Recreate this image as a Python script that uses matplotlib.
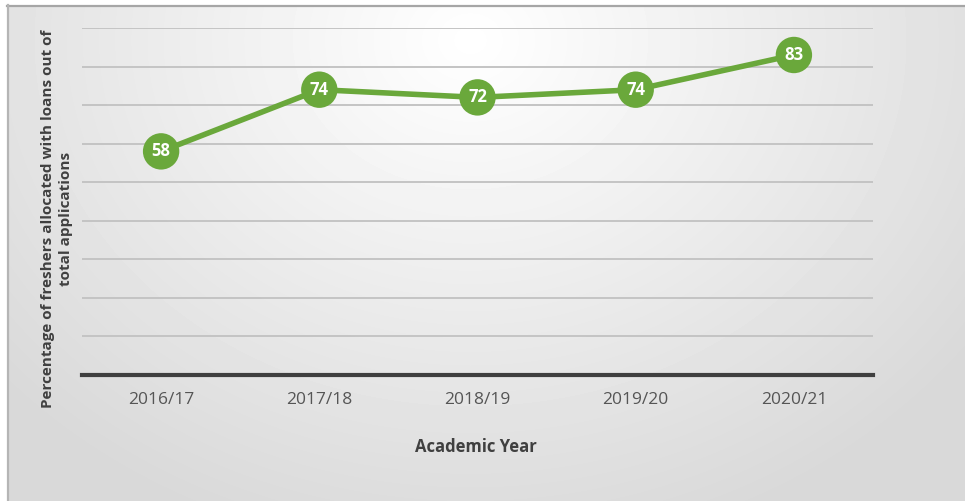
import matplotlib
matplotlib.use('Agg')
import matplotlib.pyplot as plt
import numpy as np

plt.rcParams['font.family'] = ['Open Sans', 'DejaVu Sans']

# data
years = ['2016/17', '2017/18', '2018/19', '2019/20', '2020/21']
pct_allocated = [58, 74, 72, 74, 83]

GREEN = '#6aa83b'
W, H = 965, 501

fig = plt.figure(figsize=(W / 100, H / 100), dpi=100)

# ---- background: soft radial gradient inside a thin grey frame ----
bg = fig.add_axes([0, 0, 1, 1], zorder=-10)
yy, xx = np.mgrid[0:H, 0:W]
d = np.sqrt(((xx - 470) / 620.0) ** 2 + ((yy - 40) / 520.0) ** 2)
shade = 1.0 - 0.15 * np.clip(d, 0, 1)
shade[(xx < 7) | (yy < 5)] = 1.0
bg.imshow(shade, cmap='gray', vmin=0, vmax=1, extent=(0, W, H, 0),
          interpolation='bilinear', aspect='auto')
bg.plot([7, W], [5.5, 5.5], color='#a6a6a6', lw=1.6)
bg.plot([7.5, 7.5], [5, H], color='#b5b5b5', lw=1.6)
bg.set_xlim(0, W)
bg.set_ylim(H, 0)
bg.axis('off')

# ---- main chart ----
ax = fig.add_axes([82 / W, (H - 375) / H, (873 - 82) / W, (375 - 28) / H])
ax.patch.set_alpha(0)

x = np.arange(len(years))
ax.plot(x, pct_allocated, color=GREEN, lw=4, solid_capstyle='round', zorder=3)
ax.scatter(x, pct_allocated, s=36 ** 2 * 0.53, color=GREEN, zorder=4,
           edgecolors='none')
for xi, v in zip(x, pct_allocated):
    ax.text(xi, v, str(v), color='white', fontsize=12, fontweight='bold',
            ha='center', va='center', zorder=5)

ax.set_xlim(-0.5, len(years) - 0.5)
ax.set_ylim(0, 90)
ax.set_yticks(np.arange(10, 91, 10))
ax.yaxis.grid(True, color='#c4c4c4', lw=1.4)
ax.set_axisbelow(True)
ax.tick_params(axis='y', length=0, labelleft=False)
ax.set_xticks(x)
ax.set_xticklabels(years)
ax.tick_params(axis='x', length=0, pad=12, labelsize=12.5, labelcolor='#555555')

for side in ['top', 'right', 'left']:
    ax.spines[side].set_visible(False)
ax.spines['bottom'].set_color('#3f3f3f')
ax.spines['bottom'].set_linewidth(3)

fig.text(476 / W, 1 - 447 / H, 'Academic Year', ha='center', va='center',
         fontsize=12, fontweight='bold', color='#404040')
fig.text(57 / W, 1 - 219 / H,
         'Percentage of freshers allocated with loans out of\ntotal applications',
         rotation=90, ha='center', va='center', multialignment='center',
         fontsize=11, fontweight='bold', color='#404040', linespacing=1.35)

fig.savefig('out.png', dpi=100)
